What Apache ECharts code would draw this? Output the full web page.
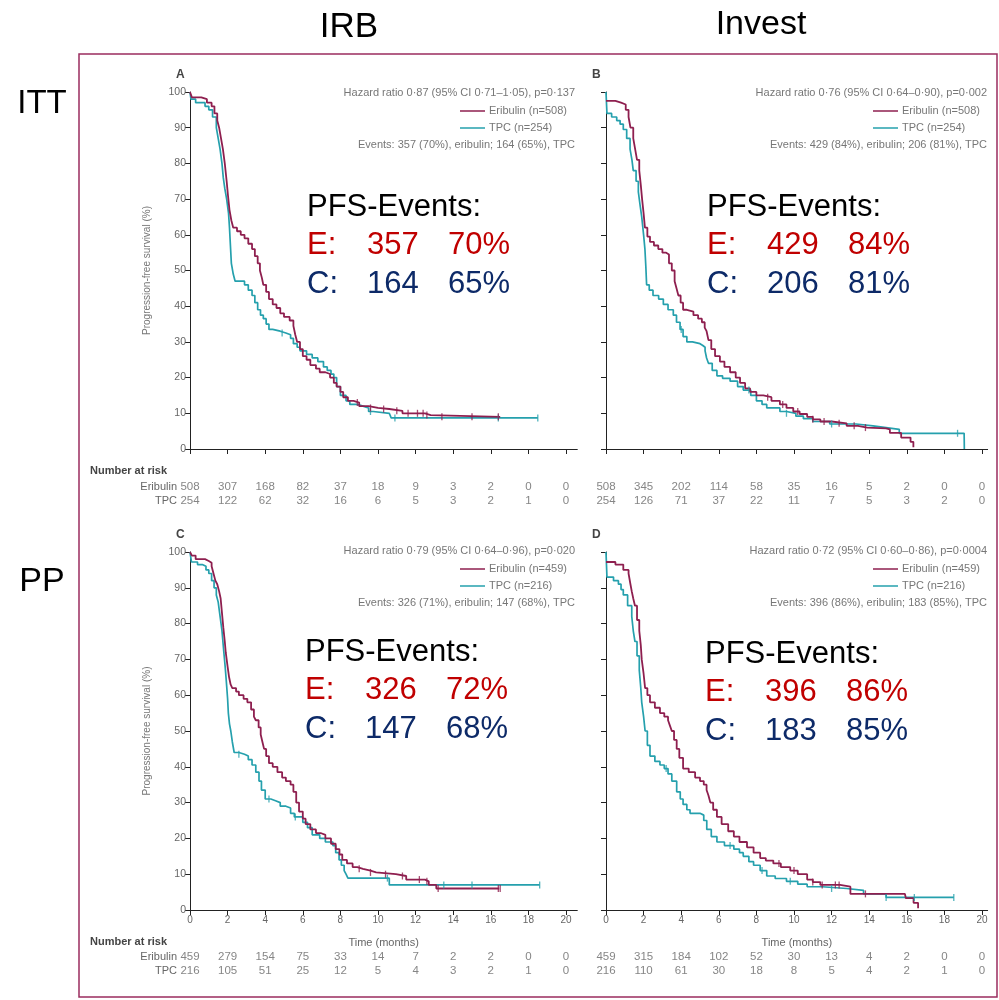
<!DOCTYPE html>
<html><head><meta charset="utf-8">
<script src="https://cdn.jsdelivr.net/npm/echarts@6/dist/echarts.min.js"></script>
<style>html,body{margin:0;padding:0;background:#fff}#c{width:999px;height:1000px}</style>
</head><body><div id="c"></div>
<script>
// ---------- DATA ----------
const monthTicks = [0,2,4,6,8,10,12,14,16,18,20];
const riskRows = ['TPC','Eribulin'];

const A_eribulin = [[0,100],[0.1,98.5],[0.6,98],[0.9,97],[1.15,96],[1.3,94],[1.45,92],[1.55,90],[1.65,87],[1.75,84],[1.85,80],[1.95,75],[2.02,71],[2.1,67],[2.2,64],[2.3,62],[2.5,61],[2.7,60],[2.9,59],[3.1,57.5],[3.3,56],[3.45,54],[3.6,52],[3.72,50],[3.82,48],[3.9,46],[4.05,44],[4.2,42],[4.4,40.5],[4.6,39.5],[4.8,38],[5.0,37],[5.3,36],[5.5,34.5],[5.6,32],[5.7,30],[5.85,28],[6.0,26],[6.2,25],[6.4,23.5],[6.7,22.5],[6.9,21.5],[7.2,21],[7.45,20],[7.65,18.5],[7.8,17.5],[8.0,16],[8.15,14.5],[8.4,13.5],[8.7,13],[9.0,12],[9.5,11.5],[10.0,11.2],[10.6,10.7],[11.3,10],[12.5,9.5],[12.8,9],[16.5,9]];
const A_tpc = [[0,100],[0.05,98],[0.3,97],[0.8,96],[1.0,95],[1.2,93],[1.4,90],[1.5,87],[1.6,84],[1.7,80],[1.77,76],[1.85,73],[1.95,70],[2.05,66],[2.1,62],[2.15,57],[2.2,52],[2.3,49],[2.4,47],[2.9,46],[3.1,44.5],[3.3,43],[3.45,41],[3.6,39],[3.75,37.5],[3.9,36.5],[4.05,35],[4.2,33.5],[4.4,33],[4.8,32.5],[5.1,32],[5.35,31],[5.5,29.5],[5.7,28.5],[5.85,27.5],[6.2,26.5],[6.5,25.5],[6.8,24.5],[7.1,23],[7.3,22],[7.5,21],[7.65,20],[7.8,17.5],[8.0,15],[8.3,13.5],[8.5,12.5],[8.9,12],[9.2,11.5],[9.5,10.5],[9.75,10],[10.6,9.5],[10.7,8.7],[18.5,8.7]];
const A_eribulinCens = [8.9,9.6,10.3,11.0,11.6,12.1,12.4,12.6,13.4,15.0,16.4];
const A_tpcCens = [4.9,9.6,10.9,16.4,18.5];

const B_eribulin = [[0,97.5],[0.5,97],[0.8,96.5],[1.05,95],[1.2,93],[1.3,90],[1.45,87],[1.55,84],[1.65,81],[1.77,78],[1.85,74],[1.92,70],[2.0,66],[2.07,62],[2.2,59.5],[2.34,58],[2.55,57],[2.78,56],[3.0,55],[3.2,54.5],[3.35,52],[3.5,50],[3.65,47],[3.75,45],[3.85,43],[3.97,41],[4.1,39],[4.3,38.5],[4.65,37.5],[4.9,36.5],[5.1,35.5],[5.25,34],[5.35,33],[5.45,30.5],[5.6,28],[5.8,26],[6.06,24.5],[6.3,23],[6.6,21.5],[6.9,20],[7.13,18.5],[7.4,17],[7.66,16],[8.0,15],[8.37,14.5],[8.8,13.5],[9.25,12.5],[9.6,11.5],[9.96,10.5],[10.3,9.8],[10.7,9],[11.0,8.3],[11.4,7.7],[12.0,7.2],[12.8,6.5],[13.4,6.0],[13.9,5.8],[14.9,5.5],[15.1,4.5],[15.7,3.2],[16.2,2],[16.35,0.5]];
const B_tpc = [[0,100],[0.05,94],[0.3,93],[0.57,92],[0.75,91],[0.92,89.5],[1.1,87],[1.28,84],[1.38,81],[1.45,78],[1.6,75],[1.72,72],[1.82,68],[1.9,65],[2.0,60],[2.07,56],[2.12,51],[2.16,46],[2.3,44.5],[2.5,43],[2.8,42],[3.05,40.5],[3.3,39],[3.58,37.5],[3.75,35.5],[3.94,33.5],[4.1,31.5],[4.3,30],[4.6,29.5],[5.0,29],[5.15,28.5],[5.27,27.5],[5.35,25.5],[5.45,24],[5.65,22],[5.9,20.5],[6.2,19.8],[6.6,19],[7.0,17.5],[7.3,16.5],[7.7,15],[8.0,13.5],[8.3,12.5],[8.55,11.5],[9.25,10.5],[9.6,10],[10.1,9.2],[10.5,8.5],[11.0,7.7],[11.9,7],[13.3,6.5],[14.2,6],[14.9,5.5],[15.6,4.4],[19.05,4.4],[19.06,0]];
const B_eribulinCens = [8.6,9.4,10.2,11.0,11.6,12.4,13.2,13.8];
const B_tpcCens = [4.0,7.6,9.6,12.0,18.7];

const C_eribulin = [[0,100],[0.1,99],[0.3,98],[0.8,97.5],[1.0,97],[1.15,96],[1.25,94],[1.35,92],[1.45,91],[1.55,89],[1.63,87],[1.7,83],[1.77,79],[1.85,75],[1.9,72],[2.0,68],[2.08,65],[2.16,63],[2.25,62],[2.45,61],[2.6,60],[2.85,59],[3.05,58],[3.25,56],[3.4,54],[3.5,53],[3.65,51],[3.76,49],[3.85,47],[3.94,45],[4.05,43],[4.2,41],[4.4,40],[4.65,38.5],[4.9,37],[5.1,36],[5.35,35],[5.5,33],[5.65,30],[5.8,27.5],[6.0,25.5],[6.15,24],[6.4,22.5],[6.7,21.5],[6.95,21],[7.2,20],[7.5,18.5],[7.75,17],[7.95,15.5],[8.1,14],[8.35,13],[8.65,12],[8.9,11.5],[9.2,11],[9.6,10.5],[9.9,10],[10.95,9.5],[11.5,8.5],[12.5,8],[12.7,7],[13.1,6],[16.45,6]];
const C_tpc = [[0,100],[0.08,97.2],[0.4,96.5],[0.65,96],[0.85,95],[1.0,94],[1.15,92],[1.28,90],[1.4,88],[1.5,86],[1.6,82],[1.7,78],[1.8,72],[1.87,68],[1.93,64],[2.0,59],[2.04,55],[2.1,52],[2.17,50],[2.25,47],[2.35,44],[2.6,43.5],[2.9,43],[3.1,42],[3.3,40.5],[3.5,38.5],[3.67,36],[3.8,33.5],[4.0,31],[4.3,30.5],[4.55,30],[4.8,29],[5.1,28.5],[5.35,27],[5.55,26],[6.0,24.5],[6.25,23],[6.5,21],[6.9,20],[7.2,19],[7.6,18],[7.75,16],[7.93,14],[8.05,12.5],[8.2,11],[8.3,10],[8.4,8.9],[10.6,7],[18.6,7]];
const C_eribulinCens = [9.0,9.6,10.4,11.3,12.2,12.6,13.2,16.4,16.5];
const C_tpcCens = [2.6,4.2,5.6,10.5,13.5,15.0,18.6];

const D_eribulin = [[0,97.2],[0.5,96.5],[0.92,95],[1.2,94],[1.3,91],[1.37,89],[1.45,87],[1.54,85],[1.65,81],[1.77,78],[1.85,74],[1.9,70],[2.0,66],[2.08,62],[2.2,60],[2.34,58],[2.6,56.5],[2.87,55],[3.1,54],[3.3,53],[3.4,51.5],[3.5,50],[3.62,47.5],[3.76,45],[3.9,42.5],[4.1,39.5],[4.4,38.5],[4.74,37],[5.0,36],[5.2,35],[5.35,33.5],[5.45,32],[5.55,30],[5.7,28],[5.9,26],[6.15,24],[6.5,22],[6.8,20.5],[7.1,19],[7.5,17.5],[7.85,16],[8.2,14.5],[8.5,13.8],[8.9,13],[9.3,12],[9.8,11],[10.2,10],[10.7,8.5],[11.0,7.8],[11.4,7],[12.45,6.5],[13.0,4.5],[15.9,4.5],[15.95,3.3],[16.36,2],[16.6,0.5]];
const D_tpc = [[0,100],[0.05,93],[0.4,92],[0.66,91],[0.8,89.5],[0.92,88],[1.15,85],[1.37,82],[1.45,78],[1.54,75],[1.65,71],[1.77,67],[1.85,62],[1.9,58],[2.0,54],[2.08,50],[2.2,46],[2.34,43],[2.6,41.5],[2.87,40.5],[3.1,39.5],[3.3,38],[3.5,36],[3.76,33],[3.95,31],[4.1,29.5],[4.3,28],[4.47,27],[5.0,26.5],[5.2,25],[5.36,22.5],[5.6,20.5],[5.9,19],[6.3,18],[6.8,17],[7.1,16],[7.3,15],[7.6,13.5],[7.85,12.5],[8.2,11],[8.55,9.5],[9.0,8.8],[9.6,8],[10.2,7.2],[10.7,6.5],[11.5,6],[12.8,5.5],[13.7,4.5],[14.9,3.5],[18.5,3.5]];
const D_eribulinCens = [9.2,10.0,11.0,11.5,12.2,12.4,13.8];
const D_tpcCens = [3.2,6.6,8.3,9.8,12.0,14.9,16.4,18.5];

const A_riskEribulin = [508,307,168,82,37,18,9,3,2,0,0];
const A_riskTpc      = [254,122,62,32,16,6,5,3,2,1,0];
const B_riskEribulin = [508,345,202,114,58,35,16,5,2,0,0];
const B_riskTpc      = [254,126,71,37,22,11,7,5,3,2,0];
const C_riskEribulin = [459,279,154,75,33,14,7,2,2,0,0];
const C_riskTpc      = [216,105,51,25,12,5,4,3,2,1,0];
const D_riskEribulin = [459,315,184,102,52,30,13,4,2,0,0];
const D_riskTpc      = [216,110,61,30,18,8,5,4,2,1,0];

const hazardText = ['Hazard ratio 0·87 (95% CI 0·71–1·05), p=0·137','Hazard ratio 0·76 (95% CI 0·64–0·90), p=0·002','Hazard ratio 0·79 (95% CI 0·64–0·96), p=0·020','Hazard ratio 0·72 (95% CI 0·60–0·86), p=0·0004'];
const legendEribulin = ['Eribulin (n=508)','Eribulin (n=508)','Eribulin (n=459)','Eribulin (n=459)'];
const legendTpc = ['TPC (n=254)','TPC (n=254)','TPC (n=216)','TPC (n=216)'];
const eventsText = ['Events: 357 (70%), eribulin; 164 (65%), TPC','Events: 429 (84%), eribulin; 206 (81%), TPC','Events: 326 (71%), eribulin; 147 (68%), TPC','Events: 396 (86%), eribulin; 183 (85%), TPC'];
const pfsE = [['357','70%'],['429','84%'],['326','72%'],['396','86%']];
const pfsC = [['164','65%'],['206','81%'],['147','68%'],['183','85%']];
const panelLetters = ['A','B','C','D'];

// ---------- STYLE / LAYOUT ----------
const ER_COLOR = '#8e1f4f', TPC_COLOR = '#25a0ad';
const SMALL = "'Liberation Sans', Arial, sans-serif";
const BIG = "'Liberation Sans', Arial, sans-serif";
const PX_PER_MONTH = 18.8;

const panels = [
  {left:190, top:92, h:357, xMax:20.6, showX:false, showY:true, er:A_eribulin, tpc:A_tpc, erC:A_eribulinCens, tpcC:A_tpcCens, rEr:A_riskEribulin, rTpc:A_riskTpc, riskTop:480, annR:575, annTop:93, legX:460, pfsX:307, pfsY:207},
  {left:606, top:92, h:357, xMax:20.3, showX:false, showY:false, er:B_eribulin, tpc:B_tpc, erC:B_eribulinCens, tpcC:B_tpcCens, rEr:B_riskEribulin, rTpc:B_riskTpc, riskTop:480, annR:987, annTop:93, legX:873, pfsX:707, pfsY:207},
  {left:190, top:552, h:358, xMax:20.6, showX:true, showY:true, er:C_eribulin, tpc:C_tpc, erC:C_eribulinCens, tpcC:C_tpcCens, rEr:C_riskEribulin, rTpc:C_riskTpc, riskTop:950, annR:575, annTop:551, legX:460, pfsX:305, pfsY:652},
  {left:606, top:552, h:358, xMax:20.3, showX:true, showY:false, er:D_eribulin, tpc:D_tpc, erC:D_eribulinCens, tpcC:D_tpcCens, rEr:D_riskEribulin, rTpc:D_riskTpc, riskTop:950, annR:987, annTop:551, legX:873, pfsX:705, pfsY:654}
];

function stepAt(curve, t){ let v = curve[0][1]; for (const p of curve){ if (p[0] <= t) v = p[1]; else break; } return v; }

const grid = [], xAxis = [], yAxis = [], series = [];
panels.forEach((p, i) => {
  const w = p.xMax * PX_PER_MONTH;
  grid.push({left:p.left, top:p.top, width:w, height:p.h});
  xAxis.push({type:'value', gridIndex:i, min:0, max:p.xMax, interval:2,
    axisLine:{show:true, onZero:false, lineStyle:{color:'#222', width:1}},
    axisTick:{show:true, length:5, customValues:monthTicks, lineStyle:{color:'#222'}},
    axisLabel:{show:p.showX, customValues:monthTicks, fontSize:10, color:'#666', fontFamily:SMALL, margin:5,
      formatter:v => (Math.abs(v % 2) < 1e-9 ? String(v) : '')},
    splitLine:{show:false},
    name:p.showX ? 'Time (months)' : '', nameLocation:'middle', nameGap:27,
    nameTextStyle:{fontSize:11, color:'#666', fontFamily:SMALL}});
  yAxis.push({type:'value', gridIndex:i, min:0, max:100, interval:10,
    axisLine:{show:true, lineStyle:{color:'#222', width:1}},
    axisTick:{show:true, length:5, lineStyle:{color:'#222'}},
    axisLabel:{show:p.showY, fontSize:10.5, color:'#666', fontFamily:SMALL, margin:4},
    splitLine:{show:false},
    name:p.showY ? 'Progression-free survival (%)' : '', nameLocation:'middle', nameGap:38,
    nameTextStyle:{fontSize:10, color:'#777', fontFamily:SMALL}});
  series.push({type:'line', xAxisIndex:i, yAxisIndex:i, step:'end', data:p.tpc, showSymbol:false, silent:true,
    lineStyle:{color:TPC_COLOR, width:1.7}, itemStyle:{color:TPC_COLOR}, z:2});
  series.push({type:'line', xAxisIndex:i, yAxisIndex:i, step:'end', data:p.er, showSymbol:false, silent:true,
    lineStyle:{color:ER_COLOR, width:1.8}, itemStyle:{color:ER_COLOR}, z:3});
  series.push({type:'scatter', xAxisIndex:i, yAxisIndex:i, symbol:'rect', symbolSize:[1.3,7], silent:true,
    data:p.tpcC.map(t => [t, stepAt(p.tpc, t)]), itemStyle:{color:TPC_COLOR}, z:4});
  series.push({type:'scatter', xAxisIndex:i, yAxisIndex:i, symbol:'rect', symbolSize:[1.3,7], silent:true,
    data:p.erC.map(t => [t, stepAt(p.er, t)]), itemStyle:{color:ER_COLOR}, z:5});
});
// risk table grids
panels.forEach((p, i) => {
  const gi = 4 + i;
  const w = p.xMax * PX_PER_MONTH;
  grid.push({left:p.left, top:p.riskTop, width:w, height:28});
  xAxis.push({type:'value', gridIndex:gi, min:0, max:p.xMax, show:false});
  yAxis.push({type:'category', gridIndex:gi, data:riskRows,
    axisLine:{show:false}, axisTick:{show:false}, splitLine:{show:false},
    axisLabel:{show:p.showY, interval:0, hideOverlap:false, fontSize:11, color:'#666', fontFamily:SMALL, margin:13}});
  const rows = [];
  monthTicks.forEach((t, k) => { rows.push([t, 1, p.rEr[k]]); rows.push([t, 0, p.rTpc[k]]); });
  series.push({type:'scatter', xAxisIndex:gi, yAxisIndex:gi, data:rows, symbolSize:1, silent:true,
    itemStyle:{color:'rgba(0,0,0,0)'},
    label:{show:true, position:'inside', formatter:q => String(q.value[2]), fontSize:11.5, color:'#666', fontFamily:SMALL}});
});

// ---------- TEXT / DECORATION ----------
const graphic = [];
function txt(text, x, y, font, fill, align, vAlign){
  graphic.push({type:'text', x, y, silent:true, style:{text, font, fill, textAlign:align || 'left', textVerticalAlign:vAlign || 'middle'}});
}
graphic.push({type:'rect', shape:{x:79, y:54, width:918, height:943}, silent:true, style:{fill:'none', stroke:'#9b2d5f', lineWidth:1.5}});
txt('IRB', 349, 27, '35px ' + BIG, '#000', 'center');
txt('Invest', 761, 25, '34px ' + BIG, '#000', 'center');
txt('ITT', 42, 104, '33px ' + BIG, '#000', 'center');
txt('PP', 42, 582, '34px ' + BIG, '#000', 'center');
txt('Number at risk', 90, 471, 'bold 11px ' + SMALL, '#444', 'left');
txt('Number at risk', 90, 942, 'bold 11px ' + SMALL, '#444', 'left');

panels.forEach((p, i) => {
  txt(panelLetters[i], p.left - 14, p.top - 17, 'bold 12px ' + SMALL, '#444', 'left');
  txt(hazardText[i], p.annR, p.annTop, '11px ' + SMALL, '#777', 'right');
  graphic.push({type:'line', silent:true, shape:{x1:p.legX, y1:p.annTop + 18, x2:p.legX + 25, y2:p.annTop + 18}, style:{stroke:ER_COLOR, lineWidth:1.5}});
  graphic.push({type:'line', silent:true, shape:{x1:p.legX, y1:p.annTop + 35, x2:p.legX + 25, y2:p.annTop + 35}, style:{stroke:TPC_COLOR, lineWidth:1.5}});
  txt(legendEribulin[i], p.legX + 29, p.annTop + 18, '11px ' + SMALL, '#777', 'left');
  txt(legendTpc[i], p.legX + 29, p.annTop + 35, '11px ' + SMALL, '#777', 'left');
  txt(eventsText[i], p.annR, p.annTop + 52, '11px ' + SMALL, '#777', 'right');
  txt('PFS-Events:', p.pfsX, p.pfsY, '31px ' + BIG, '#000', 'left');
  txt('E:', p.pfsX, p.pfsY + 38, '31px ' + BIG, '#c00000', 'left');
  txt(pfsE[i][0], p.pfsX + 60, p.pfsY + 38, '31px ' + BIG, '#c00000', 'left');
  txt(pfsE[i][1], p.pfsX + 141, p.pfsY + 38, '31px ' + BIG, '#c00000', 'left');
  txt('C:', p.pfsX, p.pfsY + 77, '31px ' + BIG, '#0d2a68', 'left');
  txt(pfsC[i][0], p.pfsX + 60, p.pfsY + 77, '31px ' + BIG, '#0d2a68', 'left');
  txt(pfsC[i][1], p.pfsX + 141, p.pfsY + 77, '31px ' + BIG, '#0d2a68', 'left');
});

const chart = echarts.init(document.getElementById('c'), null, {renderer:'canvas'});
chart.setOption({animation:false, backgroundColor:'#fff', grid, xAxis, yAxis, series, graphic});
</script></body></html>
